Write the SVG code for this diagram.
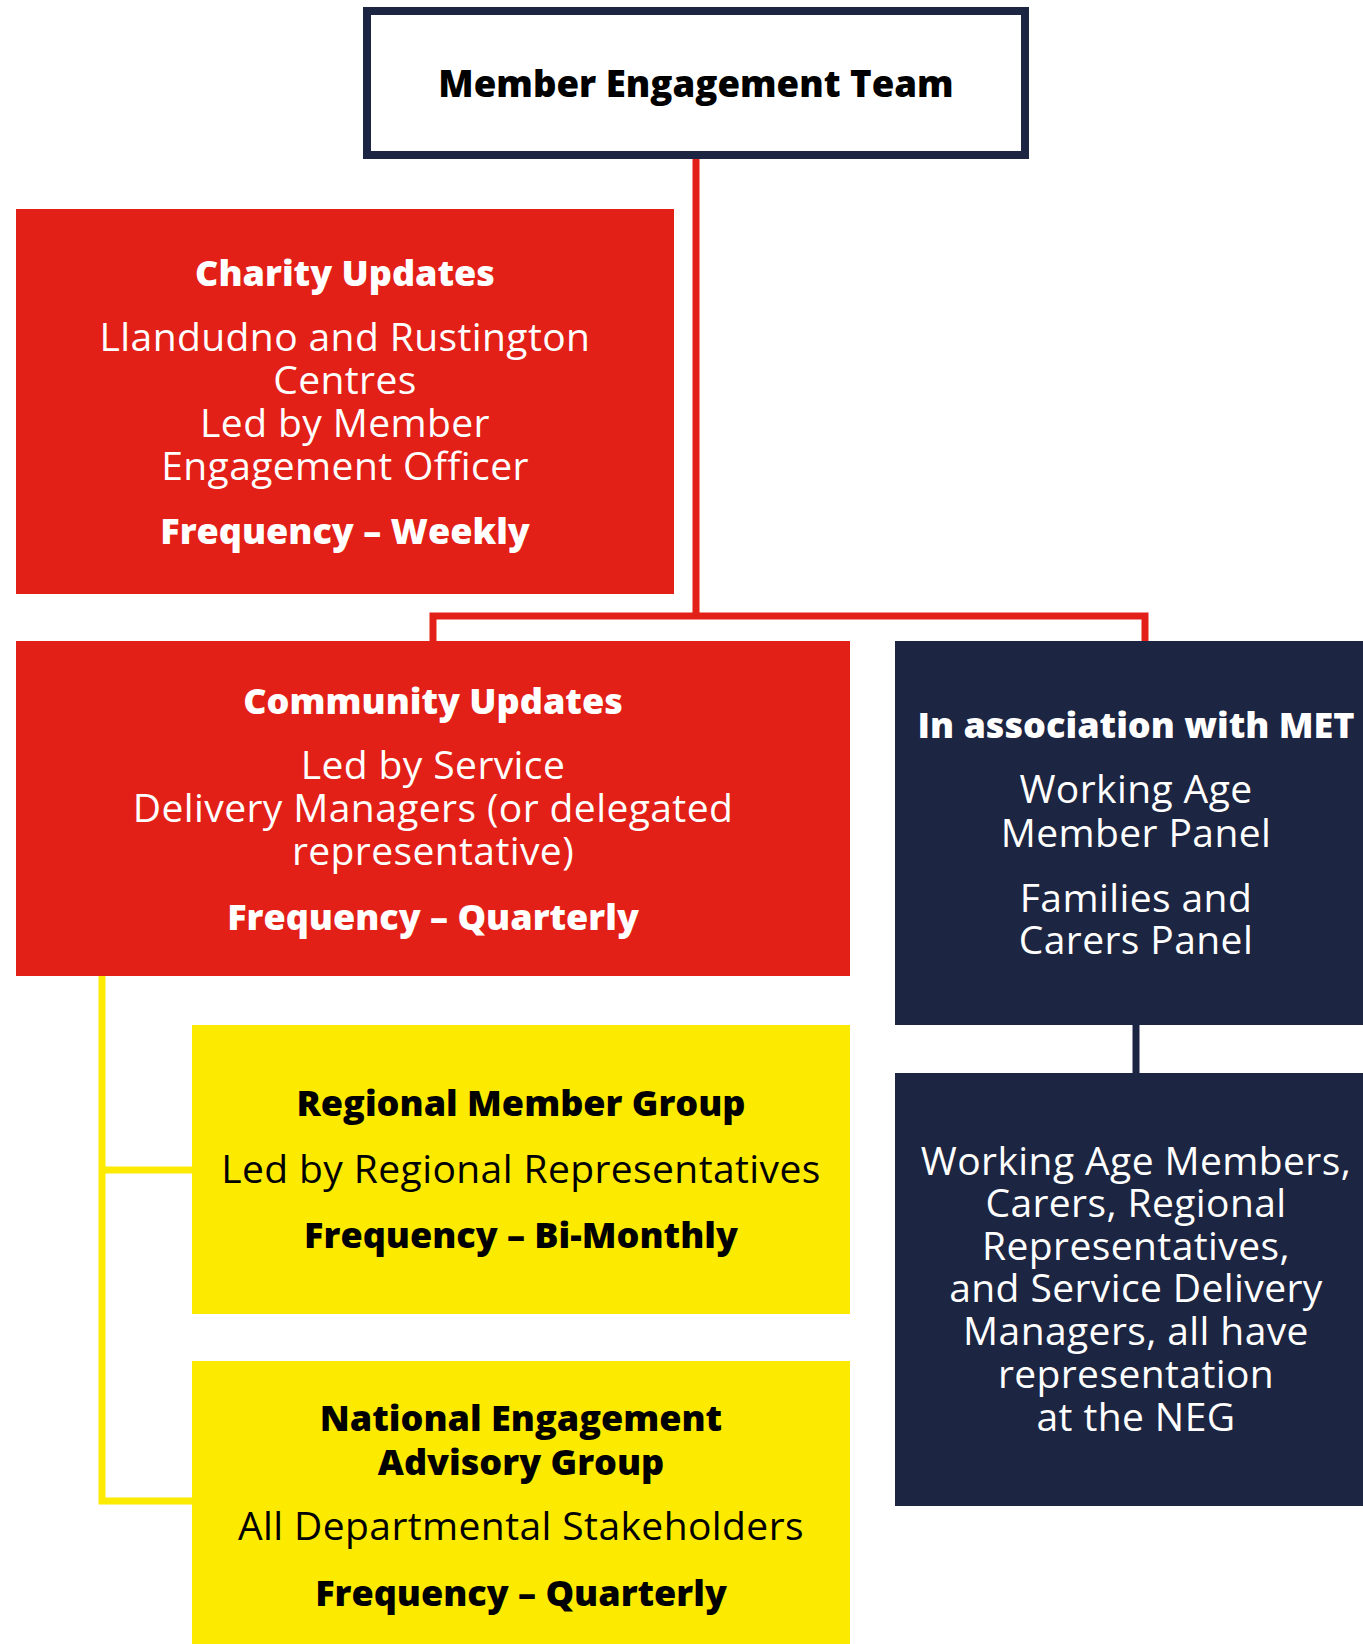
<svg xmlns="http://www.w3.org/2000/svg" width="1363" height="1644" viewBox="0 0 1363 1644">
<style>
.t{font-family:"Open Sans","Noto Sans","Liberation Sans",sans-serif;font-size:39px;letter-spacing:0.4px;text-anchor:middle}
.b{font-weight:800;font-size:36px;letter-spacing:0}
.h{font-size:36.6px}
.w{fill:#ffffff}
.k{fill:#000000}
.red{fill:#E32017}
.navy{fill:#1C2541}
.yel{fill:#FCEA00}
</style>
<rect width="1363" height="1644" fill="#ffffff"/>
<g id="connectors" fill="none">
<path d="M696 159 V616 M433 641 V616 H1145 V641" stroke="#E32017" stroke-width="7"/>
<path d="M1136 1025 V1073" stroke="#1C2541" stroke-width="7"/>
<path d="M102 976 V1501 H192 M102 1170 H192" stroke="#FCEA00" stroke-width="7"/>
</g>
<g id="met">
<rect x="367" y="11" width="658" height="144" fill="#ffffff" stroke="#1C2541" stroke-width="8"/>
<text class="t b h k" x="696" y="97">Member Engagement Team</text>
</g>
<g id="charity">
<rect class="red" x="16" y="209" width="658" height="385"/>
<text class="t b w" x="345" y="286">Charity Updates</text>
<text class="t w" x="345" y="351">Llandudno and Rustington</text>
<text class="t w" x="345" y="394">Centres</text>
<text class="t w" x="345" y="437">Led by Member</text>
<text class="t w" x="345" y="480">Engagement Officer</text>
<text class="t b w" x="345" y="544">Frequency – Weekly</text>
</g>
<g id="community">
<rect class="red" x="16" y="641" width="834" height="335"/>
<text class="t b w" x="433" y="714">Community Updates</text>
<text class="t w" x="433" y="779">Led by Service</text>
<text class="t w" x="433" y="822">Delivery Managers (or delegated</text>
<text class="t w" x="433" y="865">representative)</text>
<text class="t b w" x="433" y="930">Frequency – Quarterly</text>
</g>
<g id="association">
<rect class="navy" x="895" y="641" width="468" height="384"/>
<text class="t b w" x="1136" y="738">In association with MET</text>
<text class="t w" x="1136" y="803">Working Age</text>
<text class="t w" x="1136" y="847">Member Panel</text>
<text class="t w" x="1136" y="912">Families and</text>
<text class="t w" x="1136" y="954">Carers Panel</text>
</g>
<g id="neg-representation">
<rect class="navy" x="895" y="1073" width="468" height="433"/>
<text class="t w" x="1136" y="1175">Working Age Members,</text>
<text class="t w" x="1136" y="1217">Carers, Regional</text>
<text class="t w" x="1136" y="1260">Representatives,</text>
<text class="t w" x="1136" y="1302">and Service Delivery</text>
<text class="t w" x="1136" y="1345">Managers, all have</text>
<text class="t w" x="1136" y="1388">representation</text>
<text class="t w" x="1136" y="1431">at the NEG</text>
</g>
<g id="regional">
<rect class="yel" x="192" y="1025" width="658" height="289"/>
<text class="t b k" x="521" y="1116">Regional Member Group</text>
<text class="t k" x="521" y="1183">Led by Regional Representatives</text>
<text class="t b k" x="521" y="1248">Frequency – Bi-Monthly</text>
</g>
<g id="national">
<rect class="yel" x="192" y="1361" width="658" height="283"/>
<text class="t b k" x="521" y="1431">National Engagement</text>
<text class="t b k" x="521" y="1475">Advisory Group</text>
<text class="t k" x="521" y="1540">All Departmental Stakeholders</text>
<text class="t b k" x="521" y="1606">Frequency – Quarterly</text>
</g>
</svg>
